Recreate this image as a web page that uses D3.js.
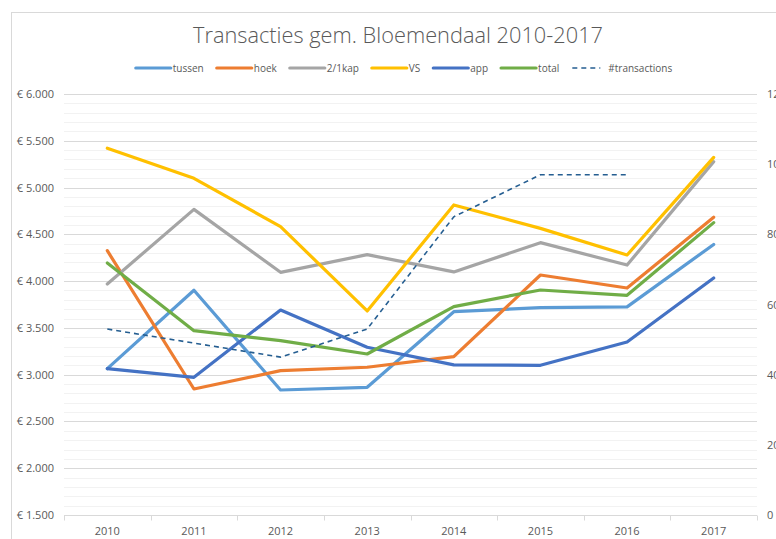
<!DOCTYPE html>
<html>
<head>
<meta charset="utf-8">
<script src="https://cdn.jsdelivr.net/npm/d3@7"></script>
<style>
    body { margin: 0; background: #fff; }
    svg text { font-family: "Liberation Sans Narrow", "Open Sans", "Liberation Sans", sans-serif; fill: #595959; }
</style>
</head>
<body>
<svg id="chart"></svg>
<script>
const years = [2010, 2011, 2012, 2013, 2014, 2015, 2016, 2017];

const tussen = [3064, 3902, 2836, 2865, 3673, 3716, 3725, 4392];
const hoek = [4325, 2847, 3043, 3079, 3192, 4065, 3926, 4682];
const kap = [3969, 4767, 4094, 4283, 4098, 4411, 4172, 5277];
const vs = [5420, 5099, 4582, 3681, 4814, 4564, 4279, 5323];
const app = [3064, 2972, 3691, 3293, 3104, 3100, 3349, 4033];
const total = [4194, 3470, 3363, 3221, 3727, 3905, 3848, 4625];
// no count for 2017
const transactions = [53, 49, 45, 53, 85, 97, 97, null];

const seriesNames = ["tussen", "hoek", "2/1kap", "VS", "app", "total"];
const seriesColors = ["#5B9BD5", "#ED7D31", "#A5A5A5", "#FFC000", "#4472C4", "#70AD47"];
const seriesValues = [tussen, hoek, kap, vs, app, total];

const leftTicks = [1500, 2000, 2500, 3000, 3500, 4000, 4500, 5000, 5500, 6000];
const rightTicks = [0, 20, 40, 60, 80, 100, 120];

const width = 776, height = 539;
const margin = {top: 94, right: 19, bottom: 24, left: 64};

const svg = d3.select("#chart")
    .attr("width", width)
    .attr("height", height);

// chart frame (runs off the right/bottom edge like in the screenshot)
svg.append("rect")
    .attr("x", 11.5).attr("y", 12.5)
    .attr("width", 820).attr("height", 560)
    .attr("fill", "#fff")
    .attr("stroke", "#D9D9D9");

const x = d3.scaleBand()
    .domain(years)
    .range([margin.left, width - margin.right]);

const y = d3.scaleLinear()
    .domain([1500, 6000])
    .range([height - margin.bottom, margin.top]);

const y2 = d3.scaleLinear()
    .domain([0, 120])
    .range([height - margin.bottom, margin.top]);

// minor gridlines every 100
svg.append("g")
    .selectAll("line")
    .data(d3.range(1600, 6000, 100).filter(v => v % 500 != 0))
    .enter().append("line")
    .attr("x1", margin.left).attr("x2", width - margin.right)
    .attr("y1", d => Math.round(y(d)) + 0.5).attr("y2", d => Math.round(y(d)) + 0.5)
    .attr("stroke", "#F2F2F2");

// major gridlines
svg.append("g")
    .selectAll("line")
    .data(leftTicks.slice(1))
    .enter().append("line")
    .attr("x1", margin.left).attr("x2", width - margin.right)
    .attr("y1", d => Math.round(y(d)) + 0.5).attr("y2", d => Math.round(y(d)) + 0.5)
    .attr("stroke", "#D9D9D9");

// left axis
const fmtEuro = d => "€ " + d3.format(",")(d).replace(/,/g, ".");
svg.append("g")
    .attr("class", "y-axis")
    .attr("transform", "translate(" + (margin.left - 10) + ",0)")
    .call(d3.axisLeft(y).tickValues(leftTicks).tickFormat(fmtEuro).tickSize(0))
    .call(g => g.select(".domain").remove())
    .selectAll("text")
    .attr("font-size", 11)
    .attr("x", 0);

// right axis
svg.append("g")
    .attr("class", "y2-axis")
    .attr("transform", "translate(" + (width - margin.right + 10) + ",0)")
    .call(d3.axisRight(y2).tickValues(rightTicks).tickSize(0))
    .call(g => g.select(".domain").remove())
    .selectAll("text")
    .attr("font-size", 11)
    .attr("x", 0);

// bottom axis with ticks between the categories
const xAxisY = Math.round(y(1500)) + 0.5;
svg.append("line")
    .attr("x1", margin.left).attr("x2", width - margin.right)
    .attr("y1", xAxisY).attr("y2", xAxisY)
    .attr("stroke", "#D9D9D9");

svg.append("g")
    .selectAll("line")
    .data(d3.range(years.length + 1))
    .enter().append("line")
    .attr("x1", i => Math.round(margin.left + i * x.step()) + 0.5)
    .attr("x2", i => Math.round(margin.left + i * x.step()) + 0.5)
    .attr("y1", xAxisY).attr("y2", xAxisY + 5)
    .attr("stroke", "#D9D9D9");

svg.append("g")
    .selectAll("text")
    .data(years)
    .enter().append("text")
    .attr("x", d => x(d) + x.bandwidth() / 2)
    .attr("y", xAxisY + 19)
    .attr("text-anchor", "middle")
    .attr("font-size", 11)
    .text(d => d);

// series lines
const cx = (d, i) => x(years[i]) + x.bandwidth() / 2;

const line = d3.line()
    .x(cx)
    .y(d => y(d));

svg.append("g")
    .selectAll("path")
    .data(seriesValues)
    .enter().append("path")
    .attr("d", line)
    .attr("fill", "none")
    .attr("stroke", (d, i) => seriesColors[i])
    .attr("stroke-width", 3.2)
    .attr("stroke-linejoin", "round")
    .attr("stroke-linecap", "round");

const line2 = d3.line()
    .defined(d => d != null)
    .x(cx)
    .y(d => y2(d));

svg.append("path")
    .attr("d", line2(transactions))
    .attr("fill", "none")
    .attr("stroke", "#255E91")
    .attr("stroke-width", 1.6)
    .attr("stroke-dasharray", "5,4");

// title
svg.append("text")
    .attr("x", 398)
    .attr("y", 43)
    .attr("text-anchor", "middle")
    .attr("font-size", 22)
    .attr("font-weight", 300)
    .attr("textLength", 410)
    .attr("lengthAdjust", "spacingAndGlyphs")
    .text("Transacties gem. Bloemendaal 2010-2017");

// legend
const legendItems = seriesNames.map((n, i) => ({name: n, color: seriesColors[i], dash: null}))
    .concat([{name: "#transactions", color: "#255E91", dash: "5,4"}]);

const legend = svg.append("g").attr("class", "legend");
const gap = 13;
let lx = 0;
legendItems.forEach(function(it) {
    const g = legend.append("g").attr("transform", "translate(" + lx + ",0)");
    g.append("line")
        .attr("x1", 0).attr("x2", it.dash ? 28 : 35)
        .attr("y1", 0).attr("y2", 0)
        .attr("stroke", it.color)
        .attr("stroke-width", it.dash ? 1.6 : 3.2)
        .attr("stroke-dasharray", it.dash)
        .attr("stroke-linecap", it.dash ? "butt" : "round");
    const t = g.append("text")
        .attr("x", it.dash ? 36 : 37)
        .attr("y", 3.5)
        .attr("font-size", 10)
        .text(it.name);
    lx += (it.dash ? 36 : 37) + t.node().getComputedTextLength() + gap;
});
const legendW = lx - gap;
legend.attr("transform", "translate(" + (404 - legendW / 2) + ",68)");
</script>
</body>
</html>
